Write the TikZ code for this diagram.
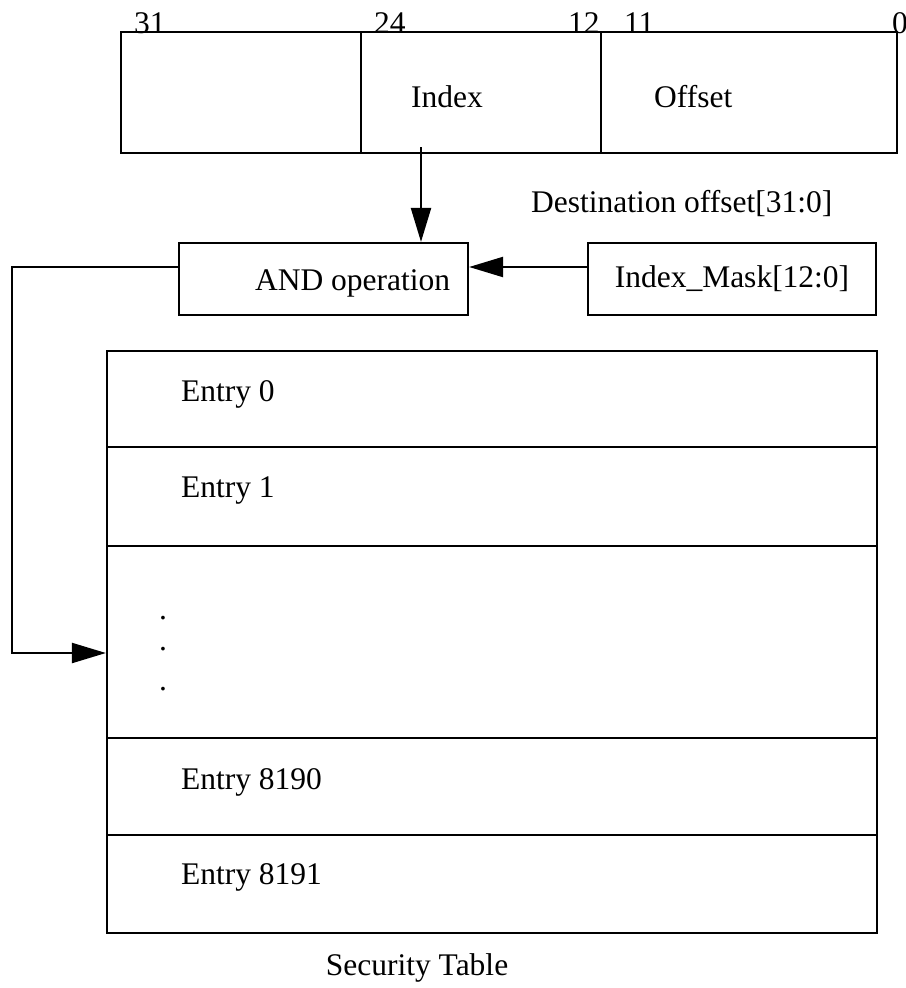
\documentclass[tikz,border=0pt]{standalone}
\usepackage{fontspec}
\setmainfont{Liberation Serif}
\usetikzlibrary{arrows.meta}

\begin{document}
\begin{tikzpicture}[x=1pt, y=-1pt, line width=2.2pt,
    every node/.style={font=\fontsize{31.5}{36}\selectfont},
    field/.style={draw, minimum height=121pt, inner sep=0pt},
    opbox/.style={draw, minimum width=289pt, minimum height=72pt, inner sep=0pt},
    rowbox/.style={draw, minimum width=770pt, inner sep=0pt},
    txt/.style={anchor=base west, inner sep=0pt},
    arr/.style={-{Triangle[length=34pt, width=20pt]}}]
    \useasboundingbox (0,0) rectangle (905,988);

    % Address register
    \node[field, minimum width=240pt] (hi) at (241,92.5) {};
    \node[field, minimum width=240pt] (idx) at (481,92.5) {};
    \node[field, minimum width=296pt] (off) at (749,92.5) {};
    \foreach \b/\x in {31/133, 24/373, 12/567, 11/623, 0/891}
        \node[txt] (bit\b) at (\x,33) {\b};
    \node[txt] (idxlbl) at (410,107) {Index};
    \node[txt] (offlbl) at (653,107) {Offset};
    \node[txt] (dest) at (530,212) {Destination offset[31:0]};

    % Masking
    \node[opbox] (andop) at (323.5,279) {};
    \node[txt] (andlbl) at (254,290) {AND operation};
    \node[opbox, minimum width=288pt] (mask) at (732,279) {Index\_Mask[12:0]};

    % Security table
    \foreach \i/\y/\h in {0/399/96, 1/496.5/99, 2/642/192, 3/786.5/97, 4/884/98}
        \node[rowbox, minimum height=\h pt] (row\i) at (492,\y) {};
    \foreach \i/\y/\lbl in {0/401/Entry 0, 1/497/Entry 1, 3/789/Entry 8190, 4/884/Entry 8191}
        \node[txt] (entry\i) at (180,\y) {\lbl};
    \foreach \k/\y in {1/619, 2/650, 3/690}
        \node[txt] (dot\k) at (158,\y) {.};
    \node[anchor=base, inner sep=0pt] (caption) at (417,975) {Security Table};

    % Connectors
    \coordinate (tap) at (421,147);
    \coordinate (lvl) at (0,267);
    \coordinate (bend) at (12,653);
    \draw[arr] (tap) -- (tap |- andop.north);
    \draw[arr] (mask.west |- lvl) -- (andop.east |- lvl);
    \draw[arr] (andop.west |- lvl) -| (bend) -- (row2.west |- bend);
\end{tikzpicture}
\end{document}
